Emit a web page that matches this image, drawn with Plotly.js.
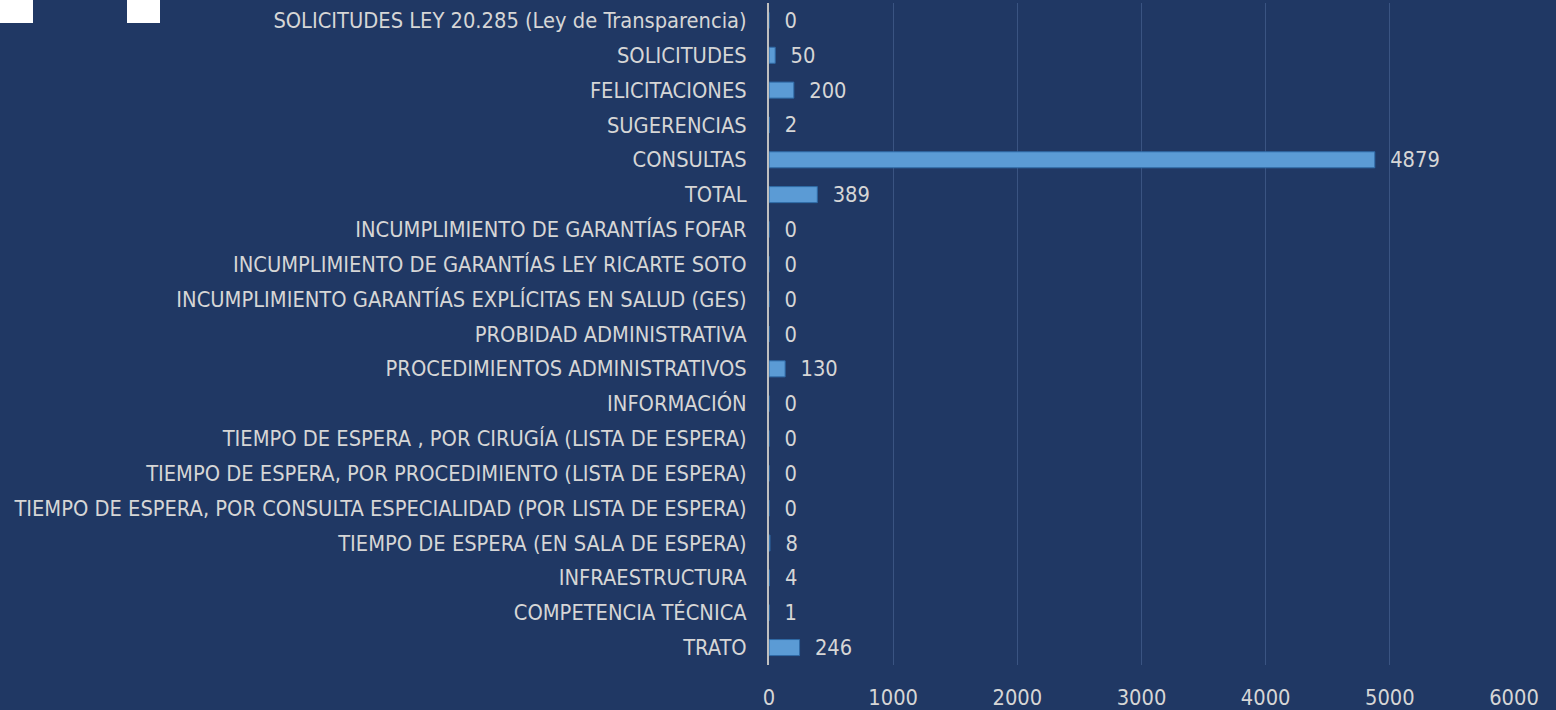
<!DOCTYPE html>
<html>
<head>
<meta charset="utf-8">
<script src="https://cdn.plot.ly/plotly-3.0.1.min.js"></script>
<style>html,body{margin:0;padding:0;background:#203864;}#chart{width:1556px;height:710px;}</style>
</head>
<body>
<div id="chart"></div>
<script>
const categories = [
  "TRATO",
  "COMPETENCIA TÉCNICA",
  "INFRAESTRUCTURA",
  "TIEMPO DE ESPERA (EN SALA DE ESPERA)",
  "TIEMPO DE ESPERA, POR CONSULTA ESPECIALIDAD (POR LISTA DE ESPERA)",
  "TIEMPO DE ESPERA, POR PROCEDIMIENTO (LISTA DE ESPERA)",
  "TIEMPO DE ESPERA , POR CIRUGÍA (LISTA DE ESPERA)",
  "INFORMACIÓN",
  "PROCEDIMIENTOS ADMINISTRATIVOS",
  "PROBIDAD ADMINISTRATIVA",
  "INCUMPLIMIENTO GARANTÍAS EXPLÍCITAS EN SALUD (GES)",
  "INCUMPLIMIENTO DE GARANTÍAS LEY RICARTE SOTO",
  "INCUMPLIMIENTO DE GARANTÍAS FOFAR",
  "TOTAL",
  "CONSULTAS",
  "SUGERENCIAS",
  "FELICITACIONES",
  "SOLICITUDES",
  "SOLICITUDES LEY 20.285 (Ley de Transparencia)"
];
const values = [246, 1, 4, 8, 0, 0, 0, 0, 130, 0, 0, 0, 0, 389, 4879, 2, 200, 50, 0];
const xTicks = [0, 1000, 2000, 3000, 4000, 5000, 6000];

const font = "'Liberation Sans Narrow', 'DejaVu Sans Condensed', 'Roboto Condensed', sans-serif";
const txtColor = "#D6D6D6";

const trace = {
  type: "bar",
  orientation: "h",
  y: categories,
  x: values,
  text: values.map(v => "\u00a0\u00a0" + v),
  textposition: "outside",
  constraintext: "none",
  cliponaxis: false,
  textfont: {family: font, size: 21.7, color: txtColor},
  marker: {
    color: "#5B9BD5",
    line: {color: "#2F6AA6", width: 1}
  },
  hoverinfo: "x+y"
};

const layout = {
  width: 1556,
  height: 710,
  paper_bgcolor: "#203864",
  plot_bgcolor: "#203864",
  margin: {l: 769, r: 42, t: 3, b: 45},
  bargap: 0.54,
  showlegend: false,
  font: {family: font, size: 21.7, color: txtColor},
  xaxis: {
    range: [0, 6000],
    tickvals: xTicks,
    ticktext: xTicks.map(String),
    showgrid: true,
    gridcolor: "#3A5482",
    gridwidth: 1,
    zeroline: false,
    showline: false,
    ticks: "",
    ticklabelstandoff: 17,
    tickfont: {family: font, size: 21.7, color: txtColor},
    fixedrange: true
  },
  yaxis: {
    type: "category",
    categoryorder: "array",
    categoryarray: categories,
    showgrid: false,
    zeroline: false,
    showline: true,
    linecolor: "#BFBFBF",
    linewidth: 2,
    ticks: "",
    ticklabelstandoff: 16,
    tickfont: {family: font, size: 21.7, color: txtColor},
    automargin: false,
    fixedrange: true
  },
  shapes: [
    {type: "rect", xref: "paper", yref: "paper", layer: "above",
     x0: -769/745, x1: -736/745, y0: 1 + 3/662, y1: 1 - 20/662,
     fillcolor: "#FFFFFF", line: {width: 0}},
    {type: "rect", xref: "paper", yref: "paper", layer: "above",
     x0: -642/745, x1: -609/745, y0: 1 + 3/662, y1: 1 - 20/662,
     fillcolor: "#FFFFFF", line: {width: 0}}
  ]
};

Plotly.newPlot("chart", [trace], layout, {displayModeBar: false, staticPlot: true});
</script>
</body>
</html>
